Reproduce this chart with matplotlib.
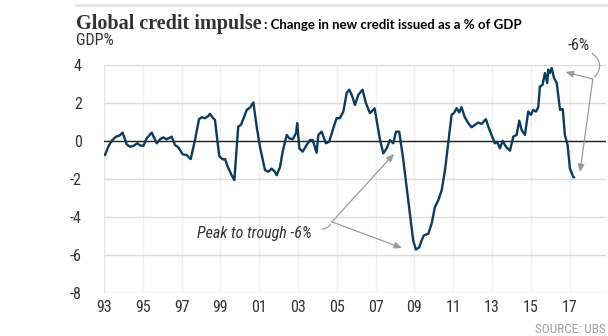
import matplotlib
matplotlib.use("Agg")
import matplotlib.pyplot as plt

# Global credit impulse, % of GDP (decimal year, value)
years = [
    1993.05, 1993.22, 1993.40, 1993.62, 1993.79, 1993.96, 1994.17, 1994.34, 1994.51, 1994.72,
    1994.86, 1995.03, 1995.20, 1995.46, 1995.72, 1995.89, 1996.06, 1996.23, 1996.49, 1996.66,
    1996.83, 1997.06, 1997.26, 1997.47, 1997.69, 1997.90, 1998.04, 1998.21, 1998.38, 1998.46,
    1998.63, 1998.72, 1998.94, 1999.12, 1999.24, 1999.38, 1999.58, 1999.72, 1999.92, 2000.06,
    2000.18, 2000.36, 2000.53, 2000.70, 2000.87, 2001.04, 2001.30, 2001.47, 2001.64, 2001.81,
    2001.90, 2002.07, 2002.21, 2002.42, 2002.55, 2002.73, 2002.90, 2002.96, 2003.07, 2003.24,
    2003.45, 2003.62, 2003.76, 2003.96, 2004.05, 2004.22, 2004.44, 2004.61, 2004.82, 2004.99,
    2005.16, 2005.34, 2005.51, 2005.64, 2005.77, 2005.94, 2006.11, 2006.33, 2006.50, 2006.71,
    2006.88, 2006.95, 2007.23, 2007.40, 2007.57, 2007.74, 2007.91, 2008.05, 2008.22, 2008.43,
    2008.60, 2008.77, 2008.94, 2009.08, 2009.25, 2009.37, 2009.49, 2009.72, 2009.89, 2010.06,
    2010.23, 2010.41, 2010.58, 2010.75, 2010.92, 2011.04, 2011.18, 2011.31, 2011.43, 2011.60,
    2011.78, 2011.95, 2012.12, 2012.29, 2012.47, 2012.69, 2012.81, 2012.98, 2013.15, 2013.27,
    2013.41, 2013.55, 2013.72, 2013.93, 2014.10, 2014.27, 2014.41, 2014.53, 2014.70, 2014.87,
    2015.01, 2015.13, 2015.27, 2015.39, 2015.47, 2015.61, 2015.73, 2015.85, 2015.90, 2015.99,
    2016.08, 2016.20, 2016.34, 2016.51, 2016.65, 2016.76, 2016.90, 2017.02, 2017.19, 2017.24,
]
impulse = [
    -0.74, -0.30, 0.02, 0.23, 0.28, 0.44, -0.18, -0.30, -0.26, -0.12,
    -0.23, -0.26, 0.14, 0.44, -0.12, 0.09, 0.19, 0.09, 0.23, -0.21,
    -0.33, -0.70, -0.74, -0.95, 0.05, 1.15, 1.25, 1.20, 1.32, 1.43,
    1.20, 1.11, -0.79, -0.97, -0.95, -1.36, -1.80, -2.06, 0.76, 0.85,
    1.15, 1.64, 1.76, 2.03, 0.76, -0.30, -1.53, -1.62, -1.45, -1.62,
    -1.80, -1.39, -0.56, 0.32, 0.14, 0.09, 0.41, 0.94, -0.39, -0.56,
    -0.21, 0.05, 0.05, -0.62, 0.32, 0.49, -0.12, -0.04, 0.67, 1.20,
    1.20, 1.55, 2.52, 2.70, 2.43, 1.90, 2.43, 2.70, 2.00, 1.47,
    1.64, 1.72, 0.05, -0.65, -0.39, 0.05, -0.12, 0.49, 0.49, -1.00,
    -2.42, -3.83, -5.24, -5.71, -5.60, -5.24, -4.97, -4.88, -4.35, -3.48,
    -3.12, -2.59, -1.53, -0.05, 1.38, 1.47, 1.73, 1.50, 1.78, 1.25,
    0.94, 0.72, 0.85, 0.97, 0.90, 1.15, 0.76, 0.32, -0.12, -0.04,
    -0.39, 0.00, -0.30, -0.51, 0.23, 0.32, 1.07, 0.58, 0.32, 1.55,
    1.38, 1.64, 1.55, 1.78, 2.87, 2.96, 3.58, 3.05, 3.76, 3.58,
    3.85, 3.32, 3.05, 1.64, 1.68, 0.32, -0.21, -1.45, -1.89, -1.92,
]

x_ticks = list(range(1993, 2018, 2))
x_tick_labels = ["93", "95", "97", "99", "01", "03", "05", "07", "09", "11", "13", "15", "17"]
y_ticks = [4, 2, 0, -2, -4, -6, -8]

NARROW = dict(family=["Roboto Condensed", "Roboto", "DejaVu Sans"], stretch="condensed")
LINE_COLOR = "#0c3b5e"
ANNO_COLOR = "#9a9a9a"
TEXT_COLOR = "#333333"

fig = plt.figure(figsize=(6.08, 3.36), dpi=100)
W, H = 608, 336
ax = fig.add_axes([104 / W, (336 - 293) / H, 502 / W, (293 - 65) / H])

ax.set_xlim(1993, 2018.88)
ax.set_ylim(-8, 4)

ax.set_yticks(y_ticks)
ax.set_yticklabels([str(v) for v in y_ticks], fontsize=11.5, color=TEXT_COLOR, **NARROW)
ax.set_xticks(x_ticks)
ax.set_xticklabels(x_tick_labels, fontsize=11.5, color=TEXT_COLOR, **NARROW)
ax.tick_params(axis="both", length=0)
ax.tick_params(axis="y", pad=16)
ax.tick_params(axis="x", pad=5)

for s in ax.spines.values():
    s.set_visible(False)

# gridlines
for v in y_ticks:
    ax.axhline(v, color="#dcdcdc", lw=1.0, zorder=1)
for x in x_ticks:
    ax.axvline(x, color="#f0f0f0", lw=1.0, zorder=0)
ax.axvline(1993, color="#e6e6e6", lw=1.0, zorder=0)
ax.axhline(0, color="#222222", lw=1.0, zorder=2)

ax.plot(years, impulse, color=LINE_COLOR, lw=1.7, zorder=3,
        solid_joinstyle="round", solid_capstyle="round")

# Annotation: peak to trough around the 2008 crisis
ax.text(2003.72, -4.85, "Peak to trough -6%", style="italic",
        fontsize=11.5, color=TEXT_COLOR, ha="right", va="center", **NARROW)
branch1 = (2004.75, -4.26)
ax.annotate("", xy=branch1, xytext=(2004.13, -4.63),
            arrowprops=dict(arrowstyle="-", color=ANNO_COLOR, lw=0.9,
                            connectionstyle="arc3,rad=0.35"))
for tip in [(2007.95, -0.68), (2008.36, -5.63)]:
    ax.annotate("", xy=tip, xytext=branch1,
                arrowprops=dict(arrowstyle="-|>,head_length=0.45,head_width=0.2",
                                color=ANNO_COLOR, lw=0.9, shrinkA=0, shrinkB=0))

# Annotation: recent fall
ax.text(2017.48, 5.03, "-6%", fontsize=11.5, color=TEXT_COLOR,
        ha="center", va="center", clip_on=False, **NARROW)
branch2 = (2018.2, 3.26)
ax.annotate("", xy=branch2, xytext=(2018.05, 4.7), annotation_clip=False,
            arrowprops=dict(arrowstyle="-", color=ANNO_COLOR, lw=0.9,
                            connectionstyle="arc3,rad=-0.6"))
for tip in [(2016.8, 3.63), (2017.54, -1.63)]:
    ax.annotate("", xy=tip, xytext=branch2, annotation_clip=False,
                arrowprops=dict(arrowstyle="-|>,head_length=0.45,head_width=0.2",
                                color=ANNO_COLOR, lw=0.9, shrinkA=0, shrinkB=0))

# Header
fig.add_artist(plt.Line2D([76 / W, 1.0], [1 - 5 / H, 1 - 5 / H],
                          color="#e3e3e3", lw=2))
title = fig.text(76 / W, 1 - 29 / H, "Global credit impulse", family="Liberation Serif",
                 fontweight="bold", fontsize=14.5, color=TEXT_COLOR,
                 ha="left", va="baseline")
fig.canvas.draw()
bb = title.get_window_extent()
fig.text(bb.x1 / W + 2 / W, 1 - 29 / H, ": Change in new credit issued as a % of GDP",
         family=["Lato", "DejaVu Sans"], fontweight="bold", fontsize=9.5,
         color="black", ha="left", va="baseline")
fig.text(76 / W, 1 - 45 / H, "GDP%", fontsize=11.5,
         color=TEXT_COLOR, ha="left", va="baseline", **NARROW)
fig.text(606 / W, 1 - 333 / H, "SOURCE: UBS", fontsize=9.5,
         color="#a0a0a0", ha="right", va="baseline", **NARROW)

fig.savefig("out.png", dpi=100)
